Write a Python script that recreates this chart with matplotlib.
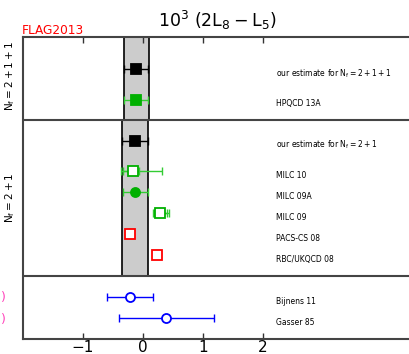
import matplotlib
matplotlib.use('Agg')
import matplotlib.pyplot as plt

plt.rcParams['mathtext.default'] = 'regular'

# FLAG 2013 style summary of 10^3 (2L8 - L5)
labels = ['our estimate for $N_f=2+1+1$', 'HPQCD 13A',
          'our estimate for $N_f=2+1$', 'MILC 10', 'MILC 09A', 'MILC 09',
          'PACS-CS 08', 'RBC/UKQCD 08', 'Bijnens 11', 'Gasser 85']
ypos = [12.85, 11.4, 9.43, 8, 7, 6, 5, 4, 2, 1]
vals = [-0.11, -0.11, -0.13, -0.16, -0.13, 0.29, -0.22, 0.23, -0.22, 0.39]
err_lo = [0.20, 0.20, 0.22, 0.21, 0.21, 0.13, 0, 0, 0.38, 0.79]
err_hi = [0.20, 0.20, 0.22, 0.47, 0.21, 0.14, 0, 0, 0.38, 0.79]
stat_lo = [0, 0, 0, 0.17, 0, 0.10, 0, 0, 0, 0]
stat_hi = [0, 0, 0, 0.10, 0, 0.11, 0, 0, 0, 0]
colors = ['black', '#00b000', 'black', '#00b000', '#00b000', '#00b000',
          'red', 'red', 'blue', 'blue']
markers = ['s', 's', 's', 's', 'o', 's', 's', 's', 'o', 'o']
filled = [True, True, True, False, True, False, False, False, False, False]

# bands: (low, high, y range)
band_lo = [-0.31, -0.35]
band_hi = [0.10, 0.09]
band_y = [(10.45, 14.5), (3, 10.45)]
separators = [3, 10.45]

fig = plt.figure(figsize=(4.10, 3.54), dpi=100)
ax = fig.add_axes([23 / 410, 15 / 354, 430 / 410, 302 / 354])
ax.set_xlim(-2.0, 5.17)
ax.set_ylim(0, 14.38)

for lo, hi, (y0, y1) in zip(band_lo, band_hi, band_y):
    ax.fill_between([lo, hi], y0, y1, color='#cccccc', linewidth=0, zorder=1)
    ax.plot([lo, lo], [y0, y1], color='black', lw=1.2, zorder=1)
    ax.plot([hi, hi], [y0, y1], color='black', lw=1.2, zorder=1)

for s in separators:
    ax.axhline(s, color='#444444', lw=1.5, zorder=2)

for i in range(len(vals)):
    c = colors[i]
    ecol = c if c != '#00b000' else '#33cc33'
    if err_lo[i] > 0:
        ax.errorbar(vals[i], ypos[i], xerr=[[err_lo[i]], [err_hi[i]]], fmt='none',
                    ecolor=ecol, elinewidth=1.0, capsize=3, capthick=1.0, zorder=3)
    if stat_lo[i] > 0:
        ax.errorbar(vals[i], ypos[i], xerr=[[stat_lo[i]], [stat_hi[i]]], fmt='none',
                    ecolor=ecol, elinewidth=1.0, capsize=3, capthick=1.0, zorder=3)
    ax.plot(vals[i], ypos[i], marker=markers[i], markersize=6.5,
            markerfacecolor=c if filled[i] else 'white',
            markeredgecolor=c, markeredgewidth=1.3, linestyle='none', zorder=4)
    ax.text(2.22, ypos[i] - 0.2, labels[i], fontsize=5.5, va='center', ha='left')

# closing brackets of labels cut off at the left edge (pheno results)
for y in [2, 1]:
    fig.text(1 / 410, (15 + y * 21 - 1) / 354, ')', color='#ff44bb',
             fontsize=9, ha='left', va='center')

ax.set_xticks([-1, 0, 1, 2])
ax.set_xticklabels(['\u22121', '0', '1', '2'], fontsize=11)
ax.set_yticks([])
ax.tick_params(axis='x', direction='in', top=True, length=4, width=1,
               color='#333333', pad=1)
for sp in ax.spines.values():
    sp.set_color('#444444')
    sp.set_linewidth(1.5)

fig.text(10 / 410, 1 - 76 / 354, '$N_f=2+1+1$', rotation=90, fontsize=7.5,
         ha='center', va='center')
fig.text(10 / 410, 1 - 198 / 354, '$N_f=2+1$', rotation=90, fontsize=7.5,
         ha='center', va='center')

fig.text(217 / 410, 1 - 20 / 354, '$10^3\\ (2L_8-L_5)$', fontsize=12.5,
         ha='center', va='center')
fig.text(22 / 410, 1 - 30 / 354, 'FLAG2013', color='red', fontsize=8.7,
         ha='left', va='center')

plt.savefig('out.png', dpi=100)
